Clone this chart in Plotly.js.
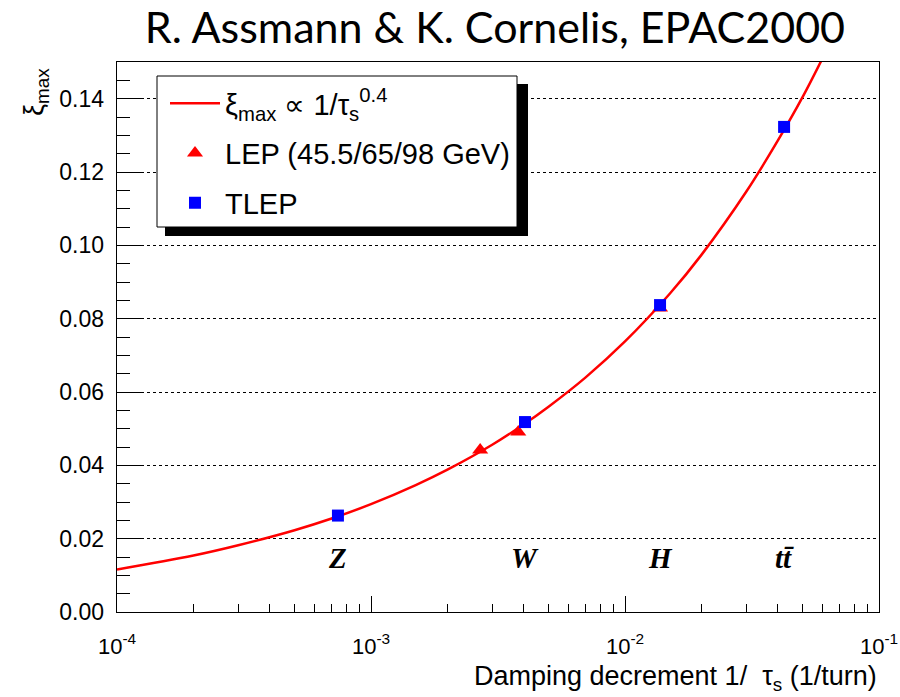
<!DOCTYPE html>
<html>
<head>
<meta charset="utf-8">
<script src="https://cdn.plot.ly/plotly-3.0.1.min.js"></script>
<style>html,body{margin:0;padding:0;background:#fff;}#chart{width:900px;height:697px;}</style>
</head>
<body>
<div id="chart"></div>
<script>
// Fitted curve xi_max ~ 1/tau_s^0.4
const curveX = [1e-4, 2e-4, 3e-4, 5e-4, 7e-4, 1e-3, 1.5e-3, 2e-3, 3e-3, 4e-3, 5e-3, 7e-3, 1e-2, 1.5e-2, 2e-2, 3e-2, 4e-2, 5e-2, 6e-2];
const curveY = [0.0116, 0.0154, 0.0182, 0.0223, 0.0255, 0.0294, 0.0346, 0.0388, 0.0456, 0.0512, 0.0560, 0.0640, 0.0738, 0.0868, 0.0974, 0.1146, 0.1286, 0.1404, 0.1511];

// LEP measurements (45.5 / 65 / 98 GeV)
const lepX = [2.69e-3, 3.80e-3, 0.01374];
const lepY = [0.0442, 0.0491, 0.0829];

// TLEP operating points
const tlepX = [7.41e-4, 4.04e-3, 0.01374, 0.0423];
const tlepY = [0.0263, 0.0518, 0.0837, 0.1323];
const tlepLabels = ['Z', 'W', 'H', 'tt\u0304'];
const labelY = 0.0147;

// axis ticks
const xTickVals = [1e-4, 1e-3, 1e-2, 1e-1];
const xTickText = ['10<sup>-4</sup>', '10<sup>-3</sup>', '10<sup>-2</sup>', '10<sup>-1</sup>'];

const minorX = [];
for (let d = -4; d < -1; d++) for (let m = 2; m <= 9; m++) minorX.push(m * Math.pow(10, d));

const sans = 'Liberation Sans, Arial, sans-serif';

const traces = [
  {x: curveX, y: curveY, mode: 'lines', type: 'scatter', name: '\u03BE<sub>max</sub> \u221D 1/\u03C4<sub>s</sub><sup>0.4</sup>',
   line: {color: '#ff0000', width: 2.5, shape: 'spline'}, legendgroup: 'a'},
  {x: lepX, y: lepY, mode: 'markers', type: 'scatter', name: 'LEP (45.5/65/98 GeV)',
   marker: {symbol: 'triangle-up', size: 14, color: '#ff0000'}, legendgroup: 'b'},
  {x: tlepX, y: tlepY, mode: 'markers', type: 'scatter', name: 'TLEP',
   marker: {symbol: 'square', size: 12, color: '#0000ff', line: {width: 0}}, legendgroup: 'c'}
];

const W = 762, H = 550, L = 117, T = 62;
const px = v => (v - L) / W;
const py = v => (T + H - v) / H;

const annotations = tlepLabels.map((t, i) => ({
  x: Math.log10(tlepX[i]), y: labelY, xref: 'x', yref: 'y', text: '<b><i>' + t + '</i></b>',
  showarrow: false, font: {family: 'Liberation Serif, Times New Roman, serif', size: 29, color: '#000'},
  xanchor: 'center', yanchor: 'middle'
}));
annotations.push({
  xref: 'paper', yref: 'paper', x: 1.0, y: py(678), xanchor: 'right', yanchor: 'middle', showarrow: false,
  text: 'Damping decrement 1/  \u03C4<sub>s</sub> (1/turn)', font: {family: sans, size: 27, color: '#000'}
});
annotations.push({
  xref: 'paper', yref: 'paper', x: px(36), y: py(92), xanchor: 'center', yanchor: 'middle', showarrow: false,
  textangle: -90, text: '\u03BE<sub>max</sub>', font: {family: sans, size: 27, color: '#000'}
});

const shapes = [
  {type: 'rect', xref: 'paper', yref: 'paper', x0: px(165), x1: px(528), y0: py(236), y1: py(84),
   fillcolor: '#000', line: {width: 0}, layer: 'above'},
  {type: 'rect', xref: 'paper', yref: 'paper', x0: px(157), x1: px(517), y0: py(227), y1: py(76),
   fillcolor: '#fff', line: {color: '#000', width: 1}, layer: 'above'}
];

const layout = {
  width: 900, height: 697,
  margin: {l: 117, r: 21, t: 62, b: 85},
  paper_bgcolor: '#fff', plot_bgcolor: '#fff',
  font: {family: sans, color: '#000', size: 23},
  title: {text: 'R. Assmann &amp; K. Cornelis, EPAC2000', x: 0.496, xref: 'paper', xanchor: 'center',
          y: 1 - 28 / 697, yref: 'container', yanchor: 'middle',
          font: {family: 'Lato, Open Sans, sans-serif', size: 43, color: '#000'}},
  showlegend: true,
  legend: {x: px(165), y: py(78), xanchor: 'left', yanchor: 'top', bgcolor: 'rgba(0,0,0,0)', borderwidth: 0,
           font: {family: sans, size: 29, color: '#000'}, itemwidth: 50, traceorder: 'grouped', tracegroupgap: 9},
  xaxis: {type: 'log', range: [-4, -1], tickmode: 'array', tickvals: xTickVals, ticktext: xTickText,
          ticks: 'inside', ticklen: 16, tickwidth: 1, tickcolor: '#000', showgrid: false, zeroline: false,
          showline: true, linecolor: '#000', linewidth: 1.3, mirror: true, ticklabelstandoff: 14,
          tickfont: {family: sans, size: 22, color: '#000'},
          minor: {tickmode: 'array', tickvals: minorX, ticks: 'inside', ticklen: 8, tickwidth: 1, tickcolor: '#000', showgrid: false}},
  yaxis: {range: [0, 0.15], dtick: 0.02, tick0: 0, tickformat: '.2f', ticks: 'inside', ticklen: 24, tickwidth: 1,
          tickcolor: '#000', showgrid: true, gridcolor: '#000', griddash: 'dot', gridwidth: 1, zeroline: false,
          showline: true, linecolor: '#000', linewidth: 1.3, mirror: true, ticklabelstandoff: 7,
          tickfont: {family: sans, size: 23, color: '#000'},
          minor: {dtick: 0.005, ticks: 'inside', ticklen: 13, tickwidth: 1, tickcolor: '#000', showgrid: false}},
  annotations: annotations,
  shapes: shapes
};

Plotly.newPlot('chart', traces, layout, {displayModeBar: false, staticPlot: true});
</script>
</body>
</html>
